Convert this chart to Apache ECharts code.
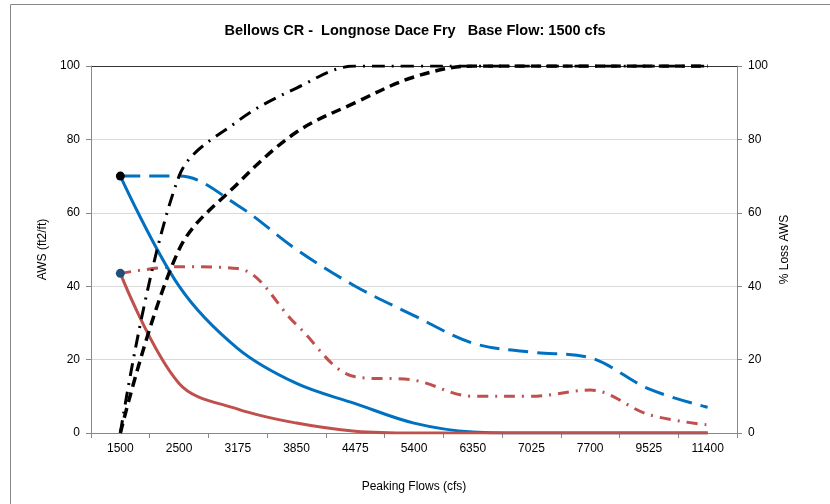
<!DOCTYPE html>
<html>
<head>
<meta charset="utf-8">
<script src="https://cdn.jsdelivr.net/npm/echarts@6/dist/echarts.min.js"></script>
<style>
  html, body { margin: 0; padding: 0; background: #fff; }
  #main { width: 830px; height: 504px; }
</style>
</head>
<body>
<div id="main"></div>
<script>
// peaking flows (cfs)
var flows = ['1500', '2500', '3175', '3850', '4475', '5400', '6350', '7025', '7700', '9525', '11400'];
// AWS (ft2/ft), left axis
var awsBlue = [70, 40, 23, 13.5, 8, 2.7, 0.3, 0, 0, 0, 0];
var awsRed = [43.5, 13.5, 6.5, 2.7, 0.5, 0, 0, 0, 0, 0, 0];
var awsBlueDash = [70, 70, 62, 50, 40, 32, 24.5, 22, 20.5, 12, 7];
var awsRedDashDot = [43.5, 45.3, 44.8, 29.5, 15.3, 14.4, 10, 10, 11.7, 5, 2.2];
// % loss AWS, right axis
var lossDash = [0, 50, 68, 82, 90, 97, 100, 100, 100, 100, 100];
var lossDashDot = [0, 70, 85, 94, 100, 100, 100, 100, 100, 100, 100];
var yTicks = [0, 20, 40, 60, 80, 100];

var font = 'Liberation Sans, Arial, sans-serif';

var chart = echarts.init(document.getElementById('main'));

function lineSeries(data, color, dash, axis, width) {
    return {
        type: 'line',
        data: data,
        yAxisIndex: axis,
        smooth: 0.35,
        symbol: 'none',
        silent: true,
        lineStyle: {
            color: color,
            width: width || 3,
            type: dash
        }
    };
}

var option = {
    animation: false,
    title: {
        text: 'Bellows CR -  Longnose Dace Fry   Base Flow: 1500 cfs',
        left: 'center',
        top: 18,
        textStyle: {
            fontFamily: font,
            fontSize: 14.5,
            fontWeight: 'bold',
            color: '#000'
        }
    },
    graphic: [{
        type: 'rect',
        shape: { x: 10.5, y: 4.5, width: 830, height: 520 },
        style: { fill: 'none', stroke: '#888', lineWidth: 1 },
        silent: true
    }],
    grid: {
        left: 91,
        right: 93,
        top: 66,
        bottom: 71
    },
    xAxis: {
        type: 'category',
        data: flows,
        name: 'Peaking Flows (cfs)',
        nameLocation: 'middle',
        nameGap: 48,
        nameTextStyle: { fontFamily: font, fontSize: 12, color: '#000' },
        axisLine: { lineStyle: { color: '#888' } },
        axisTick: { show: true, length: 5, lineStyle: { color: '#888' } },
        axisLabel: { fontFamily: font, fontSize: 12, color: '#000', margin: 10 }
    },
    yAxis: [{
        type: 'value',
        min: yTicks[0],
        max: yTicks[yTicks.length - 1],
        interval: 20,
        name: 'AWS (ft2/ft)',
        nameLocation: 'middle',
        nameGap: 38,
        nameTextStyle: { fontFamily: font, fontSize: 12, color: '#000' },
        axisLine: { show: true, lineStyle: { color: '#888' } },
        axisTick: { show: true, length: 5, lineStyle: { color: '#888' } },
        axisLabel: { fontFamily: font, fontSize: 12, color: '#000', margin: 11 },
        splitLine: {
            lineStyle: { color: ['#d9d9d9', '#d9d9d9', '#d9d9d9', '#d9d9d9', '#d9d9d9', '#333'] }
        }
    }, {
        type: 'value',
        position: 'right',
        min: yTicks[0],
        max: yTicks[yTicks.length - 1],
        interval: 20,
        name: '% Loss AWS',
        nameLocation: 'middle',
        nameRotate: 90,
        nameGap: 42,
        nameTextStyle: { fontFamily: font, fontSize: 12, color: '#000' },
        axisLine: { show: true, lineStyle: { color: '#888' } },
        axisTick: { show: true, length: 5, lineStyle: { color: '#888' } },
        axisLabel: { fontFamily: font, fontSize: 12, color: '#000', margin: 11 },
        splitLine: { show: false }
    }],
    series: [
        lineSeries(awsBlueDash, '#0070C0', [20, 9], 0),
        lineSeries(awsRedDashDot, '#C0504D', [11, 7, 2, 7], 0),
        lineSeries(awsBlue, '#0070C0', 'solid', 0),
        lineSeries(awsRed, '#C0504D', 'solid', 0),
        lineSeries(lossDash, '#000', [10, 6], 1, 3.5),
        lineSeries(lossDashDot, '#000', [13, 7, 2, 7], 1, 3),
        {
            type: 'scatter',
            yAxisIndex: 0,
            symbol: 'circle',
            symbolSize: 9,
            z: 5,
            silent: true,
            data: [[flows[0], awsBlue[0]]],
            itemStyle: { color: '#000', opacity: 1 }
        },
        {
            type: 'scatter',
            yAxisIndex: 0,
            symbol: 'circle',
            symbolSize: 9,
            z: 5,
            silent: true,
            data: [[flows[0], awsRed[0]]],
            itemStyle: { color: '#1F4E79', opacity: 1 }
        }
    ]
};

chart.setOption(option);
</script>
</body>
</html>
